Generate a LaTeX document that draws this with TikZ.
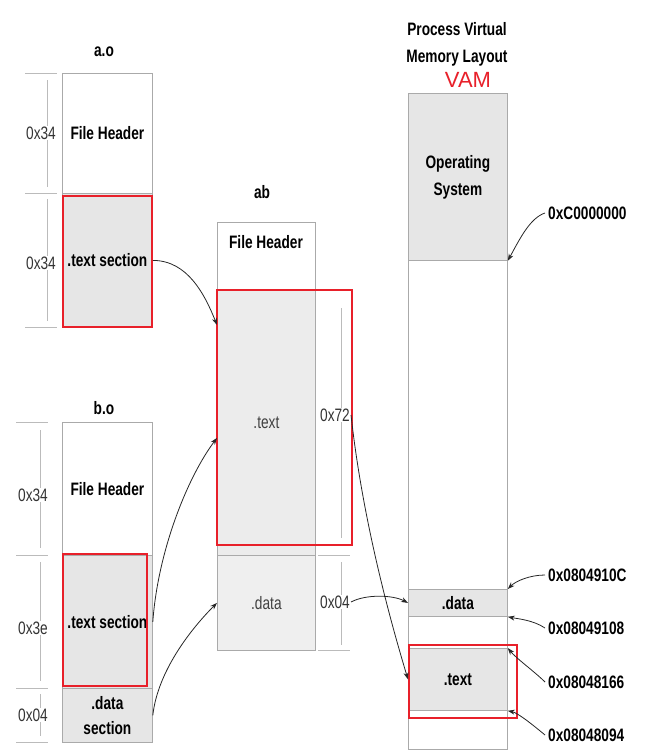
\documentclass[tikz,border=0pt]{standalone}
\usepackage{fontspec}
\setmainfont{Liberation Sans}[FakeStretch=0.76]
\newfontfamily\vamfont{Liberation Sans}
\usetikzlibrary{arrows.meta}
\definecolor{secgray}{HTML}{E6E6E6}
\definecolor{abgray}{HTML}{ECECEC}
\definecolor{datagray}{HTML}{EFEFEF}
\definecolor{boxline}{HTML}{AAAAAA}
\definecolor{tickline}{HTML}{BBBBBB}
\definecolor{markred}{HTML}{E8202A}

\begin{document}
\begin{tikzpicture}[x=1pt,y=-1pt,
    sect/.style={draw=boxline,line width=0.8pt,anchor=north west,inner sep=0pt,
      font=\fontsize{18}{25}\selectfont\bfseries,align=center},
    title/.style={font=\fontsize{18}{27}\selectfont\bfseries,align=center},
    size/.style={font=\fontsize{18}{20}\selectfont,text=black!80,fill=white,inner sep=1pt},
    addr/.style={font=\fontsize{18}{20}\selectfont\bfseries,anchor=west,inner sep=3pt},
    tick/.style={draw=tickline,line width=0.7pt},
    redbox/.style={draw=markred,line width=1.6pt},
    link/.style={draw=black!85,line width=0.8pt,-{Stealth[length=7pt,width=5pt]}}]
  \useasboundingbox (0,0) rectangle (668,756);

  % a.o
  \node[title] (aoT) at (104,52) {a.o};
  \node[sect,minimum width=90,minimum height=120] (aoHdr) at (62,73) {File Header};
  \node[sect,fill=secgray,minimum width=90,minimum height=134] (aoTxt) at (62,193) {.text section};
  \draw[redbox] (63,196) rectangle (152,327);
  \foreach \y in {73,193,327} \draw[tick] (25,\y) -- (57,\y);
  \draw[tick] (47,80) -- (47,187);
  \draw[tick] (47,199) -- (47,321);
  \node[size] (aoS1) at (41,133) {0x34};
  \node[size] (aoS2) at (41,263) {0x34};

  % b.o
  \node[title] (boT) at (104,408) {b.o};
  \node[sect,minimum width=90,minimum height=133] (boHdr) at (62,422) {File Header};
  \node[sect,fill=secgray,minimum width=90,minimum height=133] (boTxt) at (62,555) {.text section};
  \node[sect,fill=secgray,minimum width=90,minimum height=54] (boDat) at (62,688) {.data\\section};
  \draw[redbox] (63,554) rectangle (147,686);
  \foreach \y in {422,555,688,742} \draw[tick] (16,\y) -- (48,\y);
  \draw[tick] (40,430) -- (40,548);
  \draw[tick] (40,562) -- (40,681);
  \draw[tick] (40,694) -- (40,736);
  \node[size] (boS1) at (33,495) {0x34};
  \node[size] (boS2) at (33,628) {0x3e};
  \node[size] (boS3) at (33,715) {0x04};

  % ab
  \node[title] (abT) at (262,192) {ab};
  \node[sect,minimum width=98,minimum height=68] (abHdr) at (217,222) {};
  \node[title] (abHdrT) at (266,242) {File Header};
  \node[sect,fill=abgray,minimum width=98,minimum height=265,font=\fontsize{18}{20}\selectfont,text=black!75] (abTxt) at (217,290) {.text};
  \node[sect,fill=datagray,minimum width=98,minimum height=95,font=\fontsize{18}{20}\selectfont,text=black!75] (abDat) at (217,555) {.data};
  \foreach \y in {555,650} \draw[tick] (318,\y) -- (350,\y);
  \draw[tick] (341,308) -- (341,538);
  \draw[tick] (341,562) -- (341,645);
  \node[size] (abS1) at (335,415) {0x72};
  \node[size] (abS2) at (335,602) {0x04};
  \draw[redbox] (217,290) rectangle (352,545);

  % process virtual memory
  \node[title] (vamT) at (457,44) {Process Virtual\\Memory Layout};
  \node[font=\fontsize{22}{24}\selectfont\vamfont,text=markred] (vamR) at (468,80) {VAM};
  \node[sect,minimum width=99,minimum height=656] (vam) at (408,93) {};
  \node[sect,fill=secgray,minimum width=99,minimum height=167,font=\fontsize{18}{27}\selectfont\bfseries] (vamOS) at (408,93) {Operating\\System};
  \node[sect,fill=secgray,minimum width=99,minimum height=27] (vamDat) at (408,589) {.data};
  \node[sect,fill=secgray,minimum width=99,minimum height=62] (vamTxt) at (408,648) {.text};
  \draw[redbox] (409,645) rectangle (517,718);

  \node[addr] (adOS) at (545,213) {0xC0000000};
  \node[addr] (adD1) at (545,575) {0x0804910C};
  \node[addr] (adD2) at (545,628) {0x08049108};
  \node[addr] (adT1) at (545,682) {0x08048166};
  \node[addr] (adT2) at (545,735) {0x08048094};

  % links
  \draw[link] (aoTxt.east) .. controls +(35,0) and +(-12,-30) .. ([yshift=-35pt]abTxt.north west);
  \draw[link] (boTxt.east) .. controls +(5,-70) and +(-30,40) .. ([yshift=-15pt]abTxt.west);
  \draw[link] (boDat.east) .. controls +(5,-45) and +(-25,25) .. (abDat.west);
  \draw[link] (abS1.east) .. controls +(12,110) and +(-15,-50) .. (vamTxt.west);
  \draw[link] (abS2.east) .. controls +(15,-8) and +(-15,-8) .. (vamDat.west);
  \draw[link] (adOS.west) .. controls +(-15,5) and +(12,-22) .. (vamOS.south east);
  \draw[link] (adD1.west) .. controls +(-15,0) and +(8,-8) .. (vamDat.north east);
  \draw[link] (adD2.west) .. controls +(-12,-8) and +(10,2) .. (vamDat.south east);
  \draw[link] (adT1.west) .. controls +(-10,-10) and +(8,10) .. (vamTxt.north east);
  \draw[link] (adT2.west) .. controls +(-12,-10) and +(10,2) .. (vamTxt.south east);
\end{tikzpicture}
\end{document}
